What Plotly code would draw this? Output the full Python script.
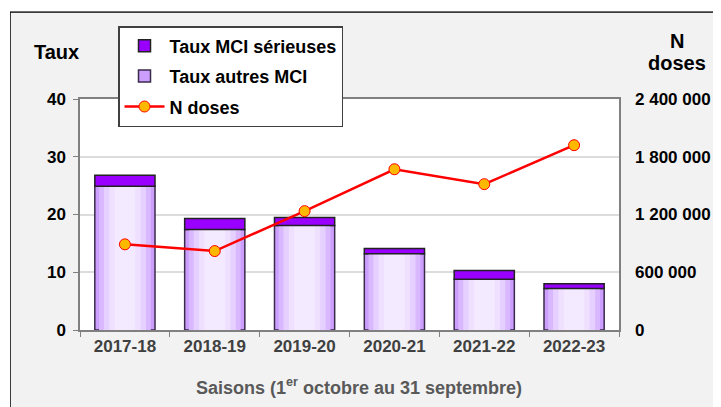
import plotly.graph_objects as go

seasons = ["2017-18", "2018-19", "2019-20", "2020-21", "2021-22", "2022-23"]
taux_autres = [24.9, 17.4, 18.1, 13.2, 8.8, 7.2]
taux_serieuses = [1.9, 1.9, 1.4, 0.9, 1.5, 0.8]
n_doses = [890000, 820000, 1235000, 1670000, 1515000, 1920000]
y_ticks = [0, 10, 20, 30, 40]
y2_ticks = [0, 600000, 1200000, 1800000, 2400000]
y2_ticktext = ["0", "600 000", "1 200 000", "1 800 000", "2 400 000"]

FONT = "Liberation Sans, Arial, sans-serif"
OFF = 8  # page body margin
W, H = 721 - OFF, 407 - OFF
L, R, T, B = 80 - OFF, 102, 99 - OFF, 77
PW, PH = W - L - R, H - T - B


def px(x):
    return (x - OFF - L) / PW


def py(y):
    return (H - B - (y - OFF)) / PH


BAR_W = 0.67
fig = go.Figure()

# gradient layers for "Taux autres MCI"
layers = [(1.0, "#cc9fff"), (0.86, "#d9b8ff"), (0.70, "#e6d0ff"), (0.52, "#efe0ff"), (0.34, "#f4eaff")]
for i, (f, c) in enumerate(layers):
    fig.add_trace(go.Bar(
        x=seasons, y=taux_autres, base=0, width=BAR_W * f,
        marker=dict(color=c, line=dict(color="#3a2a4a", width=1.5) if i == 0 else dict(width=0)),
        name="Taux autres MCI", showlegend=(i == 0), legendgroup="g2", legendrank=2,
        hoverinfo="skip" if i else None,
    ))

fig.add_trace(go.Bar(
    x=seasons, y=taux_serieuses, base=taux_autres, width=BAR_W,
    marker=dict(color="#9900ff", line=dict(color="#222222", width=1.5)),
    name="Taux MCI sérieuses", legendgroup="g1", legendrank=1,
))

fig.add_trace(go.Scatter(
    x=seasons, y=n_doses, yaxis="y2", mode="lines+markers",
    line=dict(color="#ff0000", width=2.5),
    marker=dict(color="#ffb800", size=11, line=dict(color="#ff0000", width=1)),
    name="N doses", legendgroup="g3", legendrank=3,
))

fig.update_layout(
    width=W, height=H,
    margin=dict(l=L, r=R, t=T, b=B, autoexpand=False),
    barmode="overlay",
    paper_bgcolor="#f2f2f2",
    plot_bgcolor="white",
    font=dict(family=FONT, size=14, color="black"),
    xaxis=dict(
        type="category", showline=True, linecolor="#808080", linewidth=1.5, mirror=True,
        ticks="outside", tickson="boundaries", ticklen=5, tickcolor="#808080",
        tickfont=dict(family=FONT, size=17, color="#404040", weight="bold"),
        showgrid=False, range=[-0.5, 5.5], automargin=False,
    ),
    yaxis=dict(
        range=[0, 40], tickvals=y_ticks, showgrid=True, gridcolor="#dcdcdc", gridwidth=1.5,
        showline=True, linecolor="#808080", linewidth=1.5, mirror=True,
        ticks="outside", ticklen=5, tickcolor="#808080", zeroline=False,
        tickfont=dict(family=FONT, size=17, color="black", weight="bold"),
        ticklabelstandoff=4, automargin=False,
    ),
    yaxis2=dict(
        overlaying="y", side="right", range=[0, 2400000],
        tickvals=y2_ticks, ticktext=y2_ticktext, showgrid=False, zeroline=False,
        showline=False, ticks="",
        tickfont=dict(family=FONT, size=17, color="black", weight="bold"),
        ticklabelstandoff=15, automargin=False,
    ),
    legend=dict(
        xref="container", yref="container",
        x=(118 - OFF) / W, y=1 - (26 - OFF) / H, xanchor="left", yanchor="top",
        bgcolor="white", bordercolor="#404040", borderwidth=1.5,
        font=dict(family=FONT, size=18, color="black", weight="bold"),
        tracegroupgap=4, itemwidth=40,
    ),
    showlegend=True,
)

# outer frame
fig.add_shape(type="rect", xref="paper", yref="paper", x0=px(10), x1=px(740), y0=py(440), y1=py(12),
              fillcolor="rgba(0,0,0,0)", line=dict(color="black", width=1.5), layer="below")
fig.add_shape(type="rect", xref="paper", yref="paper", x0=px(0), x1=px(10), y0=py(440), y1=py(0),
              fillcolor="white", line=dict(width=0), layer="below")
fig.add_shape(type="rect", xref="paper", yref="paper", x0=px(0), x1=px(740), y0=py(11.2), y1=py(0),
              fillcolor="white", line=dict(width=0), layer="below")

ann_font = dict(family=FONT, size=20, color="black")
fig.add_annotation(x=px(56), y=py(52), xref="paper", yref="paper", text="<b>Taux</b>",
                   xanchor="center", yanchor="middle", showarrow=False, font=ann_font)
fig.add_annotation(x=px(677), y=py(41), xref="paper", yref="paper", text="<b>N</b>",
                   xanchor="center", yanchor="middle", showarrow=False, font=ann_font)
fig.add_annotation(x=px(677), y=py(63), xref="paper", yref="paper", text="<b>doses</b>",
                   xanchor="center", yanchor="middle", showarrow=False, font=ann_font)
fig.add_annotation(x=px(359), y=py(386), xref="paper", yref="paper",
                   text="<b>Saisons (1<sup>er</sup> octobre au 31 septembre)</b>",
                   xanchor="center", yanchor="middle",
                   showarrow=False, font=dict(family=FONT, size=18, color="#595959"))

fig.write_html("out.html")
